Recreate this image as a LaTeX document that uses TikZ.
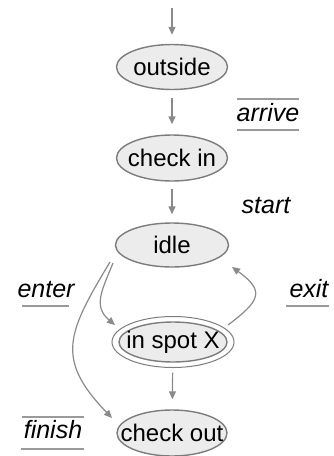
\documentclass[tikz,border=0pt]{standalone}
\usepackage{fontspec}
\setmainfont{Liberation Sans}
\usetikzlibrary{arrows.meta,shapes.geometric}
\definecolor{edgegray}{HTML}{8A8A8A}
\definecolor{fillgray}{HTML}{ECECEC}
\definecolor{bordergray}{HTML}{7C7C7C}
\definecolor{bargray}{HTML}{9A9A9A}
\begin{document}
\begin{tikzpicture}[x=1pt,y=1pt,
  statenode/.style={ellipse, draw=bordergray, fill=fillgray, line width=1.4pt,
    inner xsep=-20pt, inner ysep=-10pt, minimum width=111pt, minimum height=45pt,
    font=\fontsize{24}{28}\selectfont},
  flow/.style={draw=edgegray, line width=1.2pt, -{Triangle[length=8pt,width=7pt]}},
  evlabel/.style={font=\fontsize{25}{30}\selectfont\itshape, inner sep=0pt, anchor=base},
  bar/.style={draw=bargray, line width=1.4pt}]
\useasboundingbox (0,0) rectangle (334,-456);

% states
\node[statenode] (outside) at (172,-67) {outside};
\node[statenode, minimum height=46pt] (checkin) at (172,-158) {check in};
\node[statenode, minimum width=113pt, minimum height=44pt] (idle) at (172,-245) {idle};
\node[statenode, minimum width=108pt, minimum height=40pt] (inspot) at (173,-342) {in spot X};
\draw[bordergray, line width=1pt] (inspot.center) ellipse [x radius=61, y radius=25.5];
\node[statenode, minimum width=110pt, minimum height=46pt] (checkout) at (172,-433) {check out};

\coordinate (start) at (172,-8);

% straight transitions
\draw[flow, shorten >=9pt] (start) -- (outside);
\draw[flow, shorten <=8pt, shorten >=10pt] (outside) -- (checkin);
\draw[flow, shorten <=7pt, shorten >=8pt] (checkin) -- (idle);
\draw[flow, shorten <=10pt, shorten >=10pt] (inspot) -- (checkout);

% curved transitions
\draw[flow] ([shift={(-59,-18)}]idle.center) to[out=-112, in=140, looseness=1.2]
  ([shift={(-58,17)}]inspot.center);
\draw[flow] ([shift={(-62,-17)}]idle.center) to[out=-121, in=134, looseness=1.35]
  ([shift={(-60,15)}]checkout.center);
\draw[flow] ([shift={(55,17)}]inspot.center) to[out=37, in=-36, looseness=1.8]
  ([shift={(60,-22)}]idle.center);

% event labels
\node[evlabel] (arrive) at (268,-121) {arrive};
\draw[bar] ([yshift=22pt]arrive.base west) -- ([yshift=22pt]arrive.base east);
\draw[bar] ([yshift=-9pt]arrive.base west) -- ([yshift=-9pt]arrive.base east);

\node[evlabel] (startlbl) at (266,-213) {start};

\node[evlabel] (enter) at (46,-297) {enter};
\draw[bar] ([shift={(5,-9)}]enter.base west) -- ([shift={(-6,-9)}]enter.base east);

\node[evlabel] (exit) at (309,-297) {exit};
\draw[bar] ([shift={(-3,-9)}]exit.base west) -- ([shift={(0,-9)}]exit.base east);

\node[evlabel] (finish) at (53,-438) {finish};
\draw[bar] ([shift={(-2,21)}]finish.base west) -- ([shift={(2,21)}]finish.base east);
\draw[bar] ([shift={(-3,-11)}]finish.base west) -- ([shift={(2,-11)}]finish.base east);
\end{tikzpicture}
\end{document}
